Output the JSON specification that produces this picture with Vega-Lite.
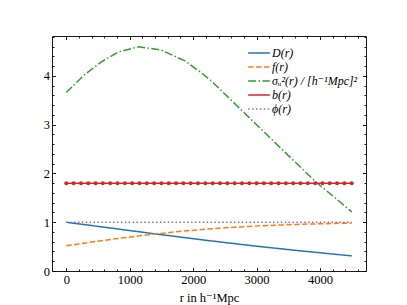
{
  "$schema": "https://vega.github.io/schema/vega-lite/v6.json",
  "width": 314,
  "height": 235,
  "autosize": {"type": "none"},
  "padding": {"left": 52, "top": 36, "right": 41, "bottom": 34},
  "background": "white",
  "config": {
    "font": "'Liberation Serif', 'DejaVu Serif', serif",
    "view": {"stroke": null},
    "axis": {
      "grid": false,
      "domainColor": "black",
      "domainWidth": 0.9,
      "tickColor": "black",
      "tickWidth": 0.9,
      "labelColor": "black",
      "titleColor": "black",
      "titleFontWeight": "normal"
    }
  },
  "datasets": {
    "curves": [
      {"r": 0, "v": 1.0, "s": "D(r)"},
      {"r": 706, "v": 0.88, "s": "D(r)"},
      {"r": 1322, "v": 0.775, "s": "D(r)"},
      {"r": 1854, "v": 0.686, "s": "D(r)"},
      {"r": 2313, "v": 0.613, "s": "D(r)"},
      {"r": 2709, "v": 0.552, "s": "D(r)"},
      {"r": 3055, "v": 0.501, "s": "D(r)"},
      {"r": 3626, "v": 0.422, "s": "D(r)"},
      {"r": 4079, "v": 0.364, "s": "D(r)"},
      {"r": 4449, "v": 0.316, "s": "D(r)"},
      {"r": 4500, "v": 0.31, "s": "D(r)"},
      {"r": 0, "v": 0.516, "s": "f(r)"},
      {"r": 350, "v": 0.584, "s": "f(r)"},
      {"r": 706, "v": 0.649, "s": "f(r)"},
      {"r": 1322, "v": 0.749, "s": "f(r)"},
      {"r": 1854, "v": 0.82, "s": "f(r)"},
      {"r": 2313, "v": 0.869, "s": "f(r)"},
      {"r": 2709, "v": 0.903, "s": "f(r)"},
      {"r": 3055, "v": 0.926, "s": "f(r)"},
      {"r": 3626, "v": 0.956, "s": "f(r)"},
      {"r": 4079, "v": 0.971, "s": "f(r)"},
      {"r": 4500, "v": 0.982, "s": "f(r)"},
      {"r": 0, "v": 3.66, "s": "σᵤ²(r) / [h⁻¹Mpc]²"},
      {"r": 290, "v": 4.03, "s": "σᵤ²(r) / [h⁻¹Mpc]²"},
      {"r": 554, "v": 4.29, "s": "σᵤ²(r) / [h⁻¹Mpc]²"},
      {"r": 817, "v": 4.49, "s": "σᵤ²(r) / [h⁻¹Mpc]²"},
      {"r": 1144, "v": 4.6, "s": "σᵤ²(r) / [h⁻¹Mpc]²"},
      {"r": 1500, "v": 4.53, "s": "σᵤ²(r) / [h⁻¹Mpc]²"},
      {"r": 1872, "v": 4.31, "s": "σᵤ²(r) / [h⁻¹Mpc]²"},
      {"r": 2136, "v": 4.06, "s": "σᵤ²(r) / [h⁻¹Mpc]²"},
      {"r": 2294, "v": 3.89, "s": "σᵤ²(r) / [h⁻¹Mpc]²"},
      {"r": 2500, "v": 3.63, "s": "σᵤ²(r) / [h⁻¹Mpc]²"},
      {"r": 3000, "v": 3.0, "s": "σᵤ²(r) / [h⁻¹Mpc]²"},
      {"r": 3500, "v": 2.37, "s": "σᵤ²(r) / [h⁻¹Mpc]²"},
      {"r": 3956, "v": 1.8, "s": "σᵤ²(r) / [h⁻¹Mpc]²"},
      {"r": 4250, "v": 1.49, "s": "σᵤ²(r) / [h⁻¹Mpc]²"},
      {"r": 4500, "v": 1.21, "s": "σᵤ²(r) / [h⁻¹Mpc]²"},
      {"r": 0, "v": 1.8, "s": "b(r)"},
      {"r": 4500, "v": 1.8, "s": "b(r)"},
      {"r": 0, "v": 1.0, "s": "ϕ(r)"},
      {"r": 4500, "v": 1.0, "s": "ϕ(r)"}
    ],
    "bpts": [
      {"r": 0, "v": 1.8}, {"r": 115.4, "v": 1.8}, {"r": 230.8, "v": 1.8}, {"r": 346.2, "v": 1.8},
      {"r": 461.5, "v": 1.8}, {"r": 576.9, "v": 1.8}, {"r": 692.3, "v": 1.8}, {"r": 807.7, "v": 1.8},
      {"r": 923.1, "v": 1.8}, {"r": 1038.5, "v": 1.8}, {"r": 1153.8, "v": 1.8}, {"r": 1269.2, "v": 1.8},
      {"r": 1384.6, "v": 1.8}, {"r": 1500, "v": 1.8}, {"r": 1615.4, "v": 1.8}, {"r": 1730.8, "v": 1.8},
      {"r": 1846.2, "v": 1.8}, {"r": 1961.5, "v": 1.8}, {"r": 2076.9, "v": 1.8}, {"r": 2192.3, "v": 1.8},
      {"r": 2307.7, "v": 1.8}, {"r": 2423.1, "v": 1.8}, {"r": 2538.5, "v": 1.8}, {"r": 2653.8, "v": 1.8},
      {"r": 2769.2, "v": 1.8}, {"r": 2884.6, "v": 1.8}, {"r": 3000, "v": 1.8}, {"r": 3115.4, "v": 1.8},
      {"r": 3230.8, "v": 1.8}, {"r": 3346.2, "v": 1.8}, {"r": 3461.5, "v": 1.8}, {"r": 3576.9, "v": 1.8},
      {"r": 3692.3, "v": 1.8}, {"r": 3807.7, "v": 1.8}, {"r": 3923.1, "v": 1.8}, {"r": 4038.5, "v": 1.8},
      {"r": 4153.8, "v": 1.8}, {"r": 4269.2, "v": 1.8}, {"r": 4384.6, "v": 1.8}, {"r": 4500, "v": 1.8}
    ]
  },
  "layer": [
    {
      "data": {"name": "curves"},
      "mark": {"type": "line", "strokeWidth": 1.5},
      "encoding": {
        "x": {
          "field": "r", "type": "quantitative",
          "scale": {"domain": [-225, 4725], "nice": false, "zero": false},
          "axis": {
            "orient": "bottom",
            "title": "r in h⁻¹Mpc",
            "labelFont": "'Liberation Serif', 'DejaVu Serif', serif",
            "labelFontSize": 12.5,
            "titleFont": "'Liberation Serif', 'DejaVu Serif', serif",
            "titleFontSize": 12.5,
            "values": [0, 200, 400, 600, 800, 1000, 1200, 1400, 1600, 1800, 2000, 2200, 2400, 2600, 2800, 3000, 3200, 3400, 3600, 3800, 4000, 4200, 4400, 4600],
            "tickSize": {"condition": {"test": "datum.value % 1000 === 0", "value": -3.5}, "value": -2},
            "labelExpr": "datum.value % 1000 === 0 ? format(datum.value, 'd') : ''",
            "labelPadding": 6,
            "labelFlush": false,
            "labelOverlap": false,
            "titlePadding": 4
          }
        },
        "y": {
          "field": "v", "type": "quantitative",
          "scale": {"domain": [0, 4.82], "nice": false, "zero": false},
          "axis": {
            "orient": "left",
            "title": null,
            "labelFont": "'Liberation Serif', 'DejaVu Serif', serif",
            "labelFontSize": 12.5,
            "values": [0, 0.2, 0.4, 0.6, 0.8, 1, 1.2, 1.4, 1.6, 1.8, 2, 2.2, 2.4, 2.6, 2.8, 3, 3.2, 3.4, 3.6, 3.8, 4, 4.2, 4.4, 4.6, 4.8],
            "tickSize": {"condition": {"test": "datum.value % 1 === 0", "value": -3.5}, "value": -2},
            "labelExpr": "datum.value % 1 === 0 ? format(datum.value, 'd') : ''",
            "labelPadding": 6,
            "labelFlush": false,
            "labelOverlap": false
          }
        },
        "color": {
          "field": "s", "type": "nominal",
          "scale": {
            "domain": ["D(r)", "f(r)", "σᵤ²(r) / [h⁻¹Mpc]²", "b(r)", "ϕ(r)"],
            "range": ["#1f77b4", "#ff7f0e", "#2ca02c", "#d62728", "#9467bd"]
          },
          "legend": {
            "title": null,
            "orient": "none",
            "legendX": 199,
            "legendY": 9,
            "symbolType": "M-1.55,0L1.55,0",
            "symbolSize": 196,
            "symbolStrokeWidth": 1.5,
            "symbolFillColor": "transparent",
            "labelFont": "'Liberation Serif', 'DejaVu Serif', serif",
            "labelFontSize": 12,
            "labelFontStyle": "italic",
            "labelColor": "black",
            "labelOffset": 5,
            "rowPadding": 0,
            "labelLimit": 200
          }
        },
        "strokeDash": {
          "field": "s", "type": "nominal",
          "scale": {
            "domain": ["D(r)", "f(r)", "σᵤ²(r) / [h⁻¹Mpc]²", "b(r)", "ϕ(r)"],
            "range": [[1, 0], [5.5, 2.4], [8, 2.4, 1.5, 2.4], [1, 0], [1.5, 2.4]]
          },
          "legend": {
            "title": null,
            "orient": "none",
            "legendX": 199,
            "legendY": 9,
            "symbolType": "M-1.55,0L1.55,0",
            "symbolSize": 196,
            "symbolStrokeWidth": 1.5,
            "symbolFillColor": "transparent",
            "labelFont": "'Liberation Serif', 'DejaVu Serif', serif",
            "labelFontSize": 12,
            "labelFontStyle": "italic",
            "labelColor": "black",
            "labelOffset": 5,
            "rowPadding": 0,
            "labelLimit": 200
          }
        }
      }
    },
    {
      "data": {"name": "bpts"},
      "mark": {"type": "point", "filled": true, "size": 16, "color": "#d62728", "opacity": 1},
      "encoding": {
        "x": {"field": "r", "type": "quantitative", "axis": null},
        "y": {"field": "v", "type": "quantitative", "axis": null}
      }
    },
    {
      "data": {"name": "curves"},
      "mark": {"type": "line", "strokeOpacity": 0},
      "encoding": {
        "x": {
          "field": "r", "type": "quantitative",
          "axis": {
            "orient": "top",
            "title": null,
            "labels": false,
            "values": [0, 200, 400, 600, 800, 1000, 1200, 1400, 1600, 1800, 2000, 2200, 2400, 2600, 2800, 3000, 3200, 3400, 3600, 3800, 4000, 4200, 4400, 4600],
            "tickSize": {"condition": {"test": "datum.value % 1000 === 0", "value": -3.5}, "value": -2}
          }
        },
        "y": {
          "field": "v", "type": "quantitative",
          "axis": {
            "orient": "right",
            "title": null,
            "labels": false,
            "values": [0, 0.2, 0.4, 0.6, 0.8, 1, 1.2, 1.4, 1.6, 1.8, 2, 2.2, 2.4, 2.6, 2.8, 3, 3.2, 3.4, 3.6, 3.8, 4, 4.2, 4.4, 4.6, 4.8],
            "tickSize": {"condition": {"test": "datum.value % 1 === 0", "value": -3.5}, "value": -2}
          }
        }
      }
    }
  ],
  "resolve": {"axis": {"x": "independent", "y": "independent"}}
}
